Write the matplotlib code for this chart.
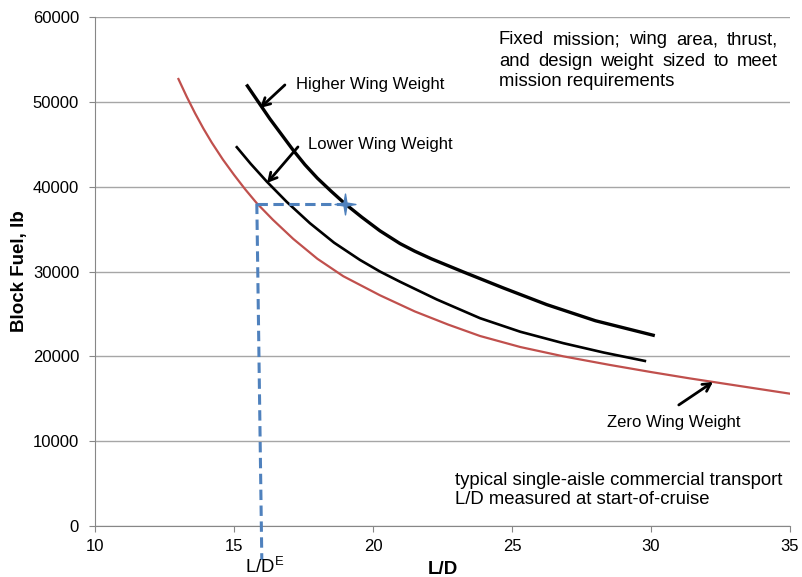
import matplotlib
matplotlib.use("Agg")
import matplotlib.pyplot as plt
from matplotlib.path import Path

plt.rcParams['font.family'] = ['Liberation Sans', 'DejaVu Sans']

# block fuel vs L/D curves
zero_ld = [13.0, 13.3, 13.6, 13.9, 14.2, 14.6, 15.0, 15.4, 15.82, 16.4, 17.13, 18.0, 18.93,
           20.25, 21.5, 22.7, 23.85, 25.3, 26.85, 28.5, 30.0, 31.4, 33.0, 35.0]
zero_fuel = [52700, 50600, 48650, 46850, 45200, 43200, 41400, 39700, 38050, 36100, 33850, 31500, 29450,
             27200, 25300, 23750, 22400, 21100, 20000, 19000, 18150, 17400, 16600, 15600]

lower_ld = [15.1, 15.6, 16.18, 16.9, 17.73, 18.6, 19.53, 20.25, 20.97, 22.3, 23.85, 25.3, 26.85, 28.3, 29.78]
lower_fuel = [44660, 42700, 40600, 38200, 35700, 33400, 31370, 30000, 28800, 26700, 24500, 22900, 21550, 20450, 19460]

higher_ld = [15.48, 16.29, 17.13, 17.55, 18.0, 18.5, 18.99, 19.6, 20.25, 20.97, 21.5, 22.1, 23.25,
             24.7, 26.25, 28.0, 30.08]
higher_fuel = [51890, 48000, 44300, 42600, 41000, 39450, 38000, 36400, 34800, 33300, 32400, 31500, 29950,
               28050, 26100, 24200, 22490]

# design point on the higher curve and the L/D read-off at the zero-weight curve
ld_e = [15.82, 16.0]
fuel_e = [38000, -4000]
star_ld = [15.82, 19.0]
star_fuel = [38000, 38000]

box_lines = ['Fixed mission; wing area, thrust,', 'and design weight sized to meet', 'mission requirements']
note_lines = ['typical single-aisle commercial transport', 'L/D measured at start-of-cruise']

fig = plt.figure(figsize=(8.02, 5.77), dpi=100)
ax = fig.add_axes([0.1185, 0.0884, 0.8665, 0.882])

ax.plot(zero_ld, zero_fuel, color='#c0504d', lw=1.6, zorder=3)
ax.plot(lower_ld, lower_fuel, color='black', lw=1.9, zorder=3)
ax.plot(higher_ld, higher_fuel, color='black', lw=2.4, zorder=3)

blue = '#4f81bd'
ax.plot(star_ld, star_fuel, color=blue, lw=2.2, dashes=(3.4, 1.8), zorder=4)
ax.plot(ld_e, fuel_e, color=blue, lw=2.2, dashes=(3.4, 1.8), zorder=4, clip_on=False)
star = Path([(0, 1), (0.14, 0.14), (1, 0), (0.14, -0.14), (0, -1), (-0.14, -0.14), (-1, 0), (-0.14, 0.14), (0, 1)],
            [Path.MOVETO] + [Path.LINETO] * 7 + [Path.CLOSEPOLY])
ax.plot([star_ld[1]], [star_fuel[1]], marker=star, ms=15, color=blue, mec=blue, zorder=5)

ax.set_xlim(10, 35)
ax.set_ylim(0, 60000)
ax.set_xticks([10, 15, 20, 25, 30, 35])
ax.set_yticks(range(0, 60001, 10000))
ax.yaxis.grid(True, color='#a6a6a6', lw=1)
ax.set_axisbelow(True)
for s in ['top', 'right']:
    ax.spines[s].set_visible(False)
for s in ['left', 'bottom']:
    ax.spines[s].set_color('#878787')
ax.tick_params(axis='both', colors='#878787', labelcolor='black', labelsize=12, length=4.5)
ax.tick_params(axis='y', pad=7)
ax.tick_params(axis='x', pad=5)

ax.set_ylabel('Block Fuel, lb', fontsize=13.5, fontweight='bold')
ax.yaxis.set_label_coords(-0.108, 0.5)
ax.yaxis.label.set_va('center')
ax.set_xlabel('L/D', fontsize=13.5, fontweight='bold')
ax.xaxis.set_label_coords(0.5, -0.085)
ax.xaxis.label.set_va('center')
fig.text(245 / 802, 4 / 577, r'L/D$^{\mathregular{E}}$', fontsize=13.4, va='baseline')

# arrows and curve labels
head = dict(arrowstyle='->,head_length=0.55,head_width=0.3', color='black', lw=2, shrinkA=0, shrinkB=0)
ax.annotate('', xy=(15.94, 49290), xytext=(16.83, 52000), arrowprops=head)
ax.text(17.23, 52000, 'Higher Wing Weight', fontsize=12, va='center')
ax.annotate('', xy=(16.19, 40450), xytext=(17.3, 44690), arrowprops=head)
ax.text(17.66, 44930, 'Lower Wing Weight', fontsize=12, va='center')
ax.annotate('', xy=(32.23, 16980), xytext=(31.0, 14270), arrowprops=head)
ax.text(28.42, 12260, 'Zero Wing Weight', fontsize=12, va='center')


def justified(words_line, x0, x1, y, size):
    # spread the words of one line evenly between x0 and x1 (data units)
    r = fig.canvas.get_renderer()
    words = words_line.split()
    arts = [ax.text(0, y, w, fontsize=size, va='center') for w in words]
    px0 = ax.transData.transform((x0, y))[0]
    px1 = ax.transData.transform((x1, y))[0]
    widths = [a.get_window_extent(r).width for a in arts]
    gap = (px1 - px0 - sum(widths)) / (len(words) - 1)
    px = px0
    inv = ax.transData.inverted()
    for a, w in zip(arts, widths):
        a.set_x(inv.transform((px, 0))[0])
        px += w + gap


justified(box_lines[0], 24.53, 34.57, 57300, 13.3)
justified(box_lines[1], 24.53, 34.57, 54720, 13.3)
ax.text(24.53, 52360, box_lines[2], fontsize=13.3, va='center')

ax.text(22.95, 5420, note_lines[0], fontsize=13.3, va='center')
ax.text(22.95, 3070, note_lines[1], fontsize=13.3, va='center')

fig.savefig('out.png', dpi=100)
